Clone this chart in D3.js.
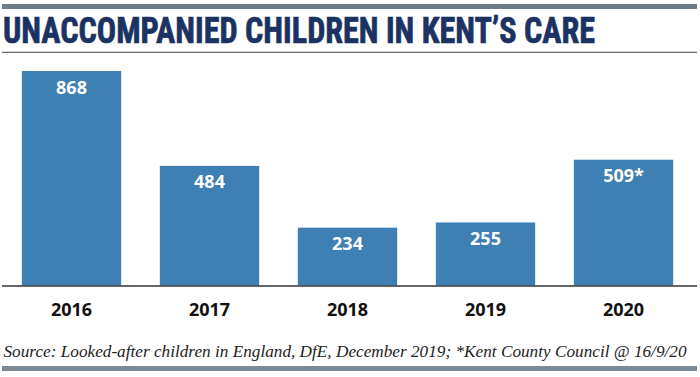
<!DOCTYPE html>
<html>
<head>
<meta charset="utf-8">
<script src="https://cdn.jsdelivr.net/npm/d3@7"></script>
<style>
  html, body { margin: 0; padding: 0; background: #fff; }
  svg { display: block; }
</style>
</head>
<body>
<svg id="chart" width="700" height="377"></svg>
<script>
const years = ["2016", "2017", "2018", "2019", "2020"];
const children = [868, 484, 234, 255, 509];
const valueLabels = ["868", "484", "234", "255", "509*"];
const titleText = "UNACCOMPANIED CHILDREN IN KENT\u2019S CARE";
const sourceText = "Source: Looked-after children in England, DfE, December 2019; *Kent County Council @ 16/9/20";

const svg = d3.select("#chart");

// top rule
svg.append("rect").attr("x", 2).attr("y", 4).attr("width", 695).attr("height", 5).attr("fill", "#6c7b87");

// title
svg.append("text")
  .attr("x", 3).attr("y", 43.3)
  .attr("textLength", 592).attr("lengthAdjust", "spacingAndGlyphs")
  .style("font-family", "'Liberation Sans Narrow', 'Roboto Condensed', Roboto, sans-serif")
  .style("font-weight", "700").style("font-size", "36.5px")
  .attr("fill", "#1b3262").attr("stroke", "#1b3262").attr("stroke-width", 0.7)
  .text(titleText);

// underline
svg.append("rect").attr("x", 2).attr("y", 51.8).attr("width", 695).attr("height", 1).attr("fill", "#444");

const x = d3.scaleBand().domain(years).range([2.5, 692.5]).paddingInner(0.28).paddingOuter(0.14);
const y = d3.scaleLinear().domain([0, 868]).range([285.5, 71]);

const data = years.map((yr, i) => ({ year: yr, value: children[i], label: valueLabels[i] }));

svg.append("g").selectAll("rect").data(data).join("rect")
  .attr("x", d => x(d.year)).attr("width", x.bandwidth())
  .attr("y", d => y(d.value)).attr("height", d => y(0) - y(d.value))
  .attr("fill", "#3e7fb4");

svg.append("g").selectAll("text").data(data).join("text")
  .attr("x", d => x(d.year) + x.bandwidth() / 2)
  .attr("y", d => y(d.value) + 22.5)
  .attr("text-anchor", "middle")
  .style("font-family", "'Open Sans', sans-serif").style("font-weight", "700").style("font-size", "18px")
  .attr("fill", "#fff")
  .text(d => d.label);

// baseline
svg.append("line").attr("x1", 2).attr("x2", 697).attr("y1", y(0) + 0.5).attr("y2", y(0) + 0.5)
  .attr("stroke", "#333").attr("stroke-width", 1.5);

// x axis labels
const xAxis = d3.axisBottom(x).tickSize(0).tickPadding(0);
const gx = svg.append("g").attr("transform", `translate(0,${y(0)})`).call(xAxis);
gx.select(".domain").remove();
gx.selectAll("text")
  .attr("y", 30.5).attr("dy", null)
  .style("font-family", "'Open Sans', sans-serif").style("font-weight", "700").style("font-size", "18px")
  .attr("fill", "#111");

// source
svg.append("text")
  .attr("x", 3.5).attr("y", 356.5)
  .attr("textLength", 683).attr("lengthAdjust", "spacingAndGlyphs")
  .style("font-family", "'Liberation Serif', serif").style("font-style", "italic").style("font-size", "17px")
  .attr("fill", "#222")
  .text(sourceText);

// bottom rule
svg.append("rect").attr("x", 2).attr("y", 366).attr("width", 695).attr("height", 5).attr("fill", "#7b8a95");
</script>
</body>
</html>
